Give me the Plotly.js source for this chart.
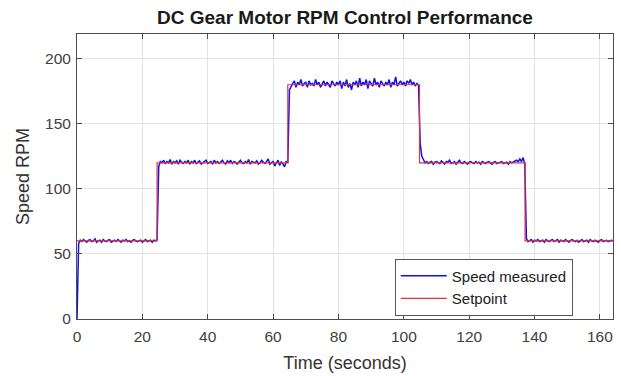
<!DOCTYPE html>
<html>
<head>
<meta charset="utf-8">
<script src="https://cdn.plot.ly/plotly-3.0.1.min.js"></script>
<style>html,body{margin:0;padding:0;background:#fff;}#chart{width:621px;height:376px;}</style>
</head>
<body>
<div id="chart"></div>
<script>
// Sample period of the measured speed (seconds) and its start time
const sampleStart = 0;
const samplePeriod = 0.5;

// Measured speed (RPM), one value every 0.5 s, 10 values (5 s) per line
const speedMeasured = [
  0, 58, 60.5, 59.5, 61, 60, 59, 60.5, 61, 59.5,
  60, 61.5, 59, 60, 60.5, 59, 61, 60, 59.5, 60.5,
  61, 59, 60, 60.5, 59.5, 61, 60, 59, 60.5, 60,
  61, 59.5, 60, 59, 60.5, 61, 60, 59.5, 60, 60.5,
  59, 60, 61, 59.5, 60, 60.5, 59, 60.5, 60, 61,
  117, 121, 120, 122, 119.5, 121, 120, 122.5, 119, 121,
  120, 121.5, 119, 122, 120.5, 119.5, 121, 120, 122, 119,
  121, 120, 122, 119.5, 120.5, 121.5, 119, 120, 121, 122,
  119.5, 120.5, 121, 119, 122, 120, 121, 119.5, 120.5, 122,
  120, 119, 121.5, 120, 122, 119.5, 121, 120.5, 119, 121,
  122, 120, 119.5, 121, 120, 122.5, 119, 121, 120.5, 120,
  121.5, 119, 120, 122, 120.5, 119.5, 121, 123, 119, 120,
  121, 117.5, 120, 122, 118, 121, 119, 117, 121, 120.5,
  176, 179, 181, 183, 178, 182, 180, 184, 179, 181,
  182, 178, 183, 180, 181, 179, 184, 180, 182, 178,
  181, 183, 179, 182, 180, 178, 183, 181, 179, 182,
  180, 183, 177, 182, 179, 184, 178, 181, 176, 182,
  180, 183, 178, 185, 179, 182, 180, 184, 177, 183,
  181, 179, 185, 180, 182, 178, 183, 181, 179, 182,
  180, 184, 178, 182, 180, 186, 179, 181, 183, 180,
  182, 179, 183, 181, 184, 180, 182, 179, 181, 180,
  135, 125, 122, 120, 121, 119.5, 120.5, 121, 119, 120.5,
  121, 120, 119.5, 121.5, 120, 119, 121, 120.5, 122, 119.5,
  120, 121, 119, 120.5, 122, 120, 119.5, 121, 120, 119,
  120.5, 121, 120, 119.5, 121, 120, 120.5, 119, 121, 120,
  119.5, 120.5, 121, 120, 119, 120.5, 121, 119.5, 120, 120.5,
  121, 119.5, 120, 120.5, 119, 121, 120, 120.5, 121, 122,
  121, 123, 121, 124, 119, 62, 59.5, 60.5, 61, 59,
  60.5, 60, 61, 59.5, 60, 60.5, 59, 61, 60, 59.5,
  60.5, 61, 59.5, 60, 61, 59, 60.5, 60, 59.5, 61,
  60, 59, 60.5, 61, 60, 59.5, 60.5, 59, 60, 61,
  59.5, 60, 60.5, 59, 61, 60, 59.5, 60.5, 60, 59,
  60.5, 61, 59.5, 60, 60.5, 59.5, 60, 60.5, 60
];
const speedTime = speedMeasured.map((_, i) => sampleStart + i * samplePeriod);

// Setpoint (RPM) as a stepped profile
const setpointTime  = [0, 24.5, 24.5, 64.5, 64.5, 104.8, 104.8, 137.1, 137.1, 164];
const setpointValue = [60, 60, 120, 120, 180, 180, 120, 120, 60, 60];

// Labels
const chartTitle = 'DC Gear Motor RPM Control Performance';
const xTitle = 'Time (seconds)';
const yTitle = 'Speed RPM';
const seriesNames = ['Speed measured', 'Setpoint'];
const xTicks = [0, 20, 40, 60, 80, 100, 120, 140, 160];
const yTicks = [0, 50, 100, 150, 200];

const font = 'Liberation Sans, Arial, sans-serif';
const axisCommon = {
  showline: true, linecolor: '#4d4d4d', linewidth: 1, mirror: 'ticks',
  ticks: 'inside', ticklen: 5, tickcolor: '#4d4d4d', tickwidth: 1,
  showgrid: true, gridcolor: '#e3e3e3', gridwidth: 1, zeroline: false,
  tickfont: {family: font, size: 15.5, color: '#404040'},
  tickmode: 'array'
};

const traces = [
  {x: speedTime, y: speedMeasured, name: seriesNames[0], type: 'scatter', mode: 'lines',
   line: {color: '#1010e8', width: 1.5}},
  {x: setpointTime, y: setpointValue, name: seriesNames[1], type: 'scatter', mode: 'lines',
   line: {color: '#dc3440', width: 1.2}}
];

const layout = {
  width: 621, height: 376,
  margin: {l: 77, r: 8, t: 34, b: 57, pad: 0},
  paper_bgcolor: '#fff', plot_bgcolor: '#fff',
  title: {text: '<b>' + chartTitle + '</b>', font: {family: font, size: 19, color: '#1a1a1a'},
          x: 0.5555, xanchor: 'center', y: 0.955, yanchor: 'middle'},
  xaxis: Object.assign({}, axisCommon, {
    range: [0, 164], tickvals: xTicks, ticktext: xTicks.map(String),
    ticklabelstandoff: 3,
    title: {text: xTitle, font: {family: font, size: 18, color: '#333'}, standoff: 12}
  }),
  yaxis: Object.assign({}, axisCommon, {
    range: [0, 219], tickvals: yTicks, ticktext: yTicks.map(String),
    ticklabelstandoff: 2,
    title: {text: yTitle, font: {family: font, size: 18, color: '#333'}, standoff: 10}
  }),
  showlegend: true,
  legend: {
    x: 0.925, xanchor: 'right', y: 0.012, yanchor: 'bottom',
    bgcolor: '#fff', bordercolor: '#555', borderwidth: 1,
    font: {family: font, size: 15, color: '#222'},
    itemwidth: 46,
    tracegroupgap: 0
  }
};

Plotly.newPlot('chart', traces, layout, {staticPlot: true, displayModeBar: false});
</script>
</body>
</html>
